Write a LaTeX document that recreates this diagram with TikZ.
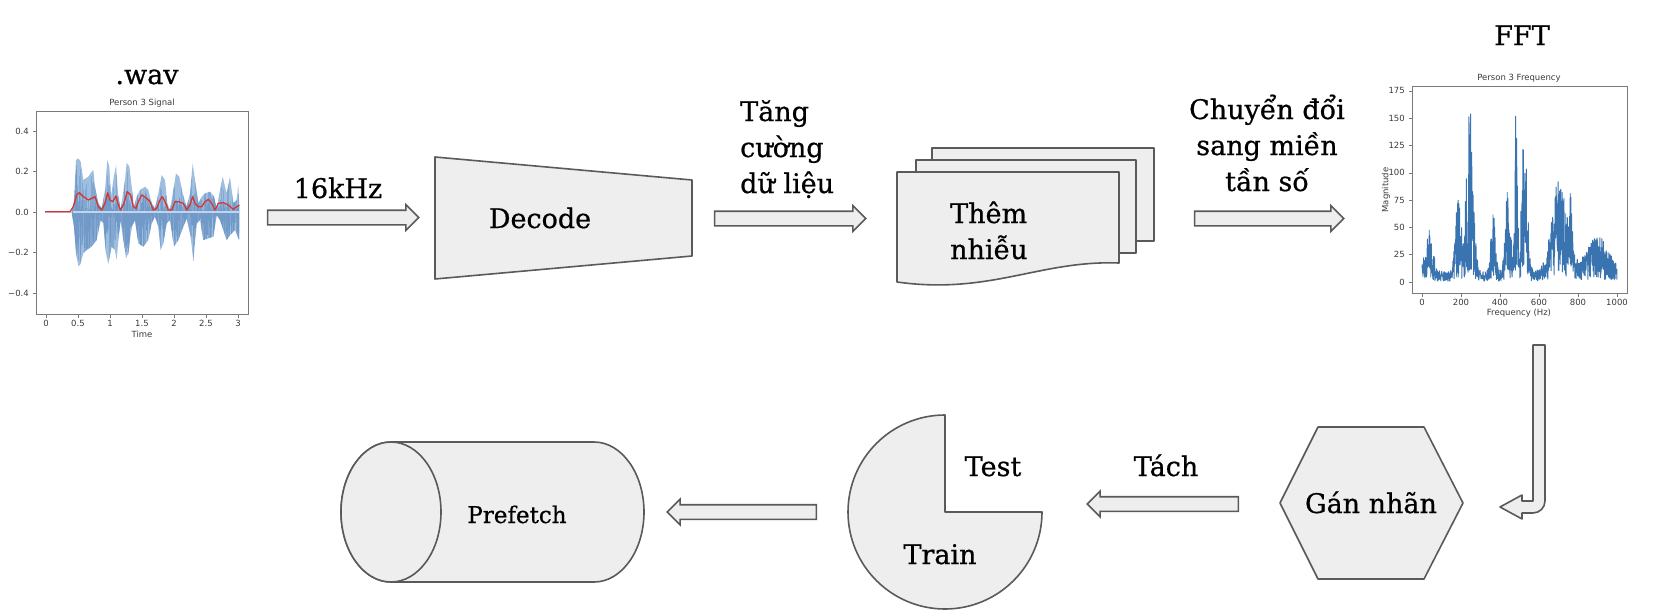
\documentclass[tikz,border=0pt]{standalone}
\usepackage{fontspec}
\setmainfont{DejaVu Serif}[FakeBold=0.7]
\newfontfamily\plotfont{DejaVu Sans}
\usetikzlibrary{shapes.arrows,calc}
\definecolor{fillc}{HTML}{EEEEEE}
\definecolor{linec}{HTML}{5A5A5A}
\definecolor{sigl}{RGB}{158,190,223}
\definecolor{sigd}{RGB}{96,140,192}
\definecolor{sigz}{RGB}{192,212,234}
\definecolor{sigred}{RGB}{218,52,46}
\definecolor{fftc}{RGB}{58,116,176}
\definecolor{axc}{HTML}{7A7A7A}
\definecolor{tickc}{HTML}{3A3A3A}
\begin{document}
\begin{tikzpicture}[x=1pt,y=-1pt,
  lbl/.style={font=\fontsize{27}{36}\selectfont, inner sep=0pt},
  shapebox/.style={draw=linec, fill=fillc, line width=1.6pt, line join=round},
  barrow/.style={single arrow, draw=linec, fill=fillc, line width=1.6pt,
    minimum height=151pt, inner xsep=0pt, inner ysep=6.5pt,
    single arrow head extend=5.5pt, single arrow tip angle=90,
    single arrow head indent=0pt},
  plottxt/.style={font=\plotfont\fontsize{8.5}{10}\selectfont, text=tickc, inner sep=0pt},
  axframe/.style={draw=axc, line width=0.8pt},
  tickline/.style={draw=axc, line width=0.6pt},
  declare function={gs(\x)=exp(-min(\x*\x,15));
    env(\f)=10+42*gs((\f-35)/26)+65*gs((\f-185)/22)+150*gs((\f-245)/24)
      +55*gs((\f-365)/16)+85*gs((\f-440)/18)+160*gs((\f-483)/9)
      +135*gs((\f-525)/20)+80*gs((\f-705)/55)+30*gs((\f-690)/8)
      +45*gs((\f-762)/10)+32*gs((\f-900)/80);}
]
\useasboundingbox (0,0) rectangle (1674,616);

% ---------------- signal plot ----------------
\def\sigpath{(45,215) -- (125,215) -- (132,180) -- (138,60) -- (145,55) -- (152,65) -- (160,120) -- (175,110) -- (185,95) -- (190,90) -- (195,140) -- (205,190) -- (215,205) -- (225,150) -- (232,60) -- (238,80) -- (243,170) -- (250,120) -- (258,75) -- (264,160) -- (272,210) -- (285,120) -- (290,68) -- (298,80) -- (305,140) -- (312,200) -- (320,170) -- (330,150) -- (345,140) -- (355,150) -- (365,190) -- (375,205) -- (385,160) -- (395,105) -- (405,120) -- (412,190) -- (420,210) -- (430,150) -- (438,100) -- (448,110) -- (458,160) -- (470,200) -- (480,160) -- (488,70) -- (495,120) -- (505,190) -- (515,170) -- (525,160) -- (540,155) -- (552,170) -- (560,205) -- (570,150) -- (578,110) -- (590,160) -- (600,110) -- (610,190) -- (620,180) -- (625,135) -- (628,200) -- (628,300) -- (625,295) -- (615,270) -- (600,285) -- (590,300) -- (580,270) -- (570,240) -- (560,225) -- (550,290) -- (535,295) -- (520,300) -- (510,240) -- (500,250) -- (490,365) -- (482,290) -- (470,235) -- (460,260) -- (445,300) -- (432,320) -- (420,240) -- (410,250) -- (400,310) -- (392,330) -- (385,260) -- (375,230) -- (365,250) -- (355,300) -- (340,320) -- (325,310) -- (315,240) -- (305,260) -- (295,340) -- (288,355) -- (280,300) -- (272,240) -- (265,300) -- (260,360) -- (255,330) -- (245,320) -- (235,372) -- (228,340) -- (220,250) -- (212,240) -- (200,300) -- (185,320) -- (170,330) -- (160,340) -- (150,375) -- (145,378) -- (138,340) -- (132,260) -- (125,218) -- (45,218) -- cycle}
\def\redpath{(45,215) -- (120,215) -- (130,200) -- (140,165) -- (148,158) -- (160,170) -- (175,180) -- (195,170) -- (205,200) -- (215,210) -- (225,190) -- (233,158) -- (240,180) -- (248,185) -- (258,168) -- (265,195) -- (272,210) -- (282,190) -- (292,155) -- (302,165) -- (310,200) -- (318,205) -- (325,185) -- (335,165) -- (350,175) -- (360,185) -- (370,210) -- (380,205) -- (390,180) -- (397,170) -- (405,185) -- (415,210) -- (425,210) -- (435,185) -- (445,185) -- (460,190) -- (470,210) -- (480,195) -- (488,170) -- (495,190) -- (505,200) -- (515,200) -- (525,185) -- (535,178) -- (545,190) -- (555,210) -- (565,190) -- (580,188) -- (595,195) -- (610,208) -- (620,200) -- (628,195)}
\pgfmathsetseed{3}
\begin{scope}[shift={(30,140)}, scale=1/3]
  \fill[sigl] \sigpath;
  \begin{scope}
    \clip \sigpath;
    \foreach \k in {126,127.5,...,628}{
      \pgfmathsetmacro{\up}{216-150*rnd*rnd}
      \pgfmathsetmacro{\dn}{216+170*rnd}
      \draw[sigd, opacity=0.45, line width=0.45pt] (\k,\up) -- (\k,\dn);
    }
  \end{scope}
  \draw[sigz, line width=1.4pt] (128,216) -- (626,216);
  \draw[sigred, line width=1.3pt, line join=round] \redpath;
\end{scope}
\draw[axframe] (36,111) rectangle (248,314);
\foreach \t/\l [count=\i] in {0/0,0.5/0.5,1/1,1.5/1.5,2/2,2.5/2.5,3/3}{
  \draw[tickline] ({46+64*\t},314) -- ++(0,3.5);
  \node[plottxt] (sx\i) at ({46+64*\t},323) {\l};
}
\foreach \v/\l [count=\i] in {0.4/0.4,0.2/0.2,0/0.0,-0.2/−0.2,-0.4/−0.4}{
  \draw[tickline] (36,{212-202.5*\v}) -- ++(-3.5,0);
  \node[plottxt, anchor=east] (sy\i) at (29,{212-202.5*\v}) {\l};
}
\node[plottxt] (sigtitle) at (142,103) {Person 3 Signal};
\node[plottxt] (sigxlab) at (142,334) {Time};

% ---------------- FFT plot ----------------
\pgfmathsetseed{11}
\draw[fftc, line width=0.9pt, line join=round]
  plot[domain=0:1000, samples=1001, variable=\q] ({1422+0.195*\q},{282-1.092*env(\q)*(0.06+0.94*rnd)});
\draw[axframe] (1412,86) rectangle (1627,293);
\foreach \f [count=\i] in {0,200,400,600,800,1000}{
  \draw[tickline] ({1422+0.195*\f},293) -- ++(0,3.5);
  \node[plottxt] (fx\i) at ({1422+0.195*\f},302) {\f};
}
\foreach \m [count=\i] in {0,25,50,75,100,125,150,175}{
  \draw[tickline] (1412,{282-1.092*\m}) -- ++(-3.5,0);
  \node[plottxt, anchor=east] (fy\i) at (1405,{282-1.092*\m}) {\m};
}
\node[plottxt] (ffttitle) at (1519,78) {Person 3 Frequency};
\node[plottxt] (fftxlab) at (1519,313) {Frequency (Hz)};
\node[plottxt, rotate=90] (fftylab) at (1386,190) {Magnitude};

% ---------------- labels ----------------
\node[lbl, anchor=base] (wav) at (147,84) {.wav};
\node[lbl, anchor=base] (fft) at (1522,45) {FFT};
\node[lbl, anchor=base] (khz) at (338,198) {16kHz};
\node[lbl, align=left, anchor=base west] (tang) at (740,193) {Tăng\\cường\\dữ liệu};
\node[lbl, align=center, anchor=base] (chuyen) at (1267,191) {Chuyển đổi\\sang miền\\tần số};

% ---------------- decode ----------------
\draw[shapebox] (435,157) -- (692,180) -- (692,256) -- (435,279) -- cycle;
\node[lbl, anchor=base] (decode) at (540,228) {Decode};

% ---------------- document stack ----------------
\draw[shapebox] (932,148) rectangle (1154,241);
\draw[shapebox] (916,160) rectangle (1136,253);
\draw[shapebox] (897,172) -- (1119,172) -- (1119,263) .. controls (1040,260) and (990,295) .. (897,282) -- cycle;
\node[lbl, align=left, anchor=base west] (them) at (950,259) {Thêm\\nhiễu};

% ---------------- hexagon ----------------
\draw[shapebox] (1280,503) -- (1318,427) -- (1424,427) -- (1463,503) -- (1424,579) -- (1318,579) -- cycle;
\node[lbl, anchor=base] (gan) at (1371,513) {Gán nhãn};

% ---------------- pie ----------------
\draw[shapebox] (945,512) -- (1042,512) arc[start angle=0, end angle=270, radius=97] -- cycle;
\node[lbl, anchor=base] (test) at (993,476) {Test};
\node[lbl, anchor=base] (train) at (940,564) {Train};

% ---------------- cylinder ----------------
\draw[shapebox] (391,442) -- (594,442) arc[start angle=-90, end angle=90, x radius=50, y radius=70]
  -- (391,582) arc[start angle=90, end angle=270, x radius=50, y radius=70] -- cycle;
\draw[shapebox] (391,512) ellipse[x radius=50, y radius=70];
\node[lbl, anchor=base, font=\fontsize{23}{28}\selectfont] (prefetch) at (517,523) {Prefetch};

\node[lbl, anchor=base] (tach) at (1166,476) {Tách};

% ---------------- block arrows ----------------
\node[barrow] (ar1) at (339.5,217.5) {};
\node[barrow] (ar2) at (786.5,218.5) {};
\node[barrow, minimum height=149pt] (ar3) at (1265.5,218.5) {};
\node[barrow, shape border rotate=180] (ar4) at (1166.5,504) {};
\node[barrow, shape border rotate=180, minimum height=149pt] (ar5) at (745.5,512) {};

% bent arrow from FFT plot to hexagon
\coordinate (bentTop) at (1539,345);
\coordinate (bentTip) at (1500,507);
\draw[shapebox] ($(bentTop)+(-6,0)$) -- ($(bentTop)+(6,0)$) -- (1545,501)
  arc[start angle=0, end angle=90, radius=12] -- (1522,513) -- (1522,519)
  -- (bentTip) -- (1522,495) -- (1522,501) -- (1533,501) -- cycle;
\end{tikzpicture}
\end{document}
